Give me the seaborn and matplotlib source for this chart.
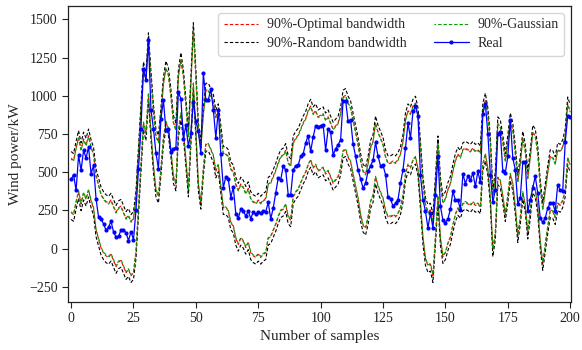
import numpy as np
import pandas as pd
import matplotlib
matplotlib.use("Agg")
import matplotlib.pyplot as plt
import seaborn as sns

# Measured wind power (kW) for samples 0..200
real = [453, 484, 381, 611, 512, 643, 593, 665, 490, 545,
        327, 207, 192, 163, 120, 141, 179, 109, 76, 80, 120, 120, 105, 52, 111, 59,
        251, 523, 785, 1178, 1101, 1363, 910, 785, 626, 523, 848, 970, 774, 785,
        632, 654, 661, 1025, 981, 720, 807, 672, 758, 960, 833, 770, 626, 1149, 975, 975,
        1043, 910, 724, 910, 617, 399, 469, 453, 334, 403, 229, 200, 257, 246, 213,
        244, 196, 240, 224, 237, 233,
        244, 242, 303, 194, 266, 364, 462, 451, 538, 516, 353, 353, 516, 542, 547,
        603, 619, 691, 739, 636, 730, 804, 795, 804, 810,
        643, 782, 760, 614, 651, 680, 712, 969, 969, 832, 843, 686, 603, 516, 455,
        396, 429, 505, 542, 577, 695, 603, 542, 545, 484,
        338, 325, 277, 298, 320, 429, 516, 658, 821, 723, 898, 930, 869, 479, 320,
        244, 135, 233, 135, 349, 603, 277, 185, 170, 194, 259,
        375, 316, 320, 255, 490, 425, 473, 447, 494, 407, 505, 433, 882, 948, 752,
        484, 303, 386, 752, 760, 505, 494, 603, 843,
        593, 516, 294, 331, 564, 564, 244, 320, 396, 473, 364, 200, 172, 200, 266,
        298, 298, 244, 418, 381, 375, 695, 865, 860]

# Point forecast at the centre of the interval bands
forecast = [413, 400, 480, 550, 470, 540, 500, 560, 490, 440,
            300, 240, 180, 150, 130, 120, 140, 100, 60, 90, 100, 60, 20, 40, 0, 20,
            155, 445, 725, 1000, 930, 1190, 940, 720, 560, 520, 700, 900, 1005, 960,
            820, 650, 600, 950, 1060, 950, 760, 560, 900, 1256, 950, 600, 480, 700, 860, 860,
            825, 785, 685, 725, 585, 445, 445, 425, 345, 325, 245, 205, 245, 225, 185,
            215, 150, 130, 120, 140, 120,
            140, 150, 245, 255, 295, 335, 385, 425, 435, 465, 385, 365, 515, 545, 565,
            605, 645, 675, 725, 755, 705, 725, 685, 695, 705,
            665, 685, 645, 605, 625, 645, 705, 815, 825, 775, 745, 665, 585, 505, 400,
            330, 310, 380, 485, 525, 645, 585, 545, 505, 425,
            385, 385, 395, 385, 405, 445, 525, 665, 725, 705, 755, 775, 700,
            480, 250, 113, 65, 75, 0, 250, 515, 244, 125, 150, 210, 250,
            330, 400, 440, 420, 470, 480, 470, 460, 480, 460, 470, 450,
            730, 795, 700, 510, 170, 280, 640, 620, 520, 400, 520, 665, 600, 450,
            262, 380, 545, 460, 285, 420, 585, 560, 450, 225, 80, 200, 320, 425,
            420, 380, 470, 460, 490, 560, 770, 720]

# Half widths of the 90% intervals (kW)
half_optimal = 178
half_random = 222
half_gaussian = 172

samples = np.arange(len(real))
fc = np.array(forecast)

df = pd.DataFrame({
    "sample": samples,
    "real": real,
    "opt_lo": fc - half_optimal,
    "opt_hi": fc + half_optimal,
    "rnd_lo": fc - half_random,
    "rnd_hi": fc + half_random,
    "gau_lo": fc - half_gaussian,
    "gau_hi": fc + half_gaussian,
})

sns.set_theme(style="ticks")
plt.rcParams["font.family"] = ["Liberation Serif", "DejaVu Serif"]
plt.rcParams["axes.linewidth"] = 0.9
plt.rcParams["xtick.direction"] = "out"
plt.rcParams["ytick.direction"] = "out"

fig = plt.figure(figsize=(5.82, 3.5), dpi=100)
ax = fig.add_axes([0.117, 0.137, 0.864, 0.846])

dash = (0, (3, 1.8))
lw = 0.8
sns.lineplot(data=df, x="sample", y="opt_hi", ax=ax, color="#ff0000", lw=lw,
             linestyle=dash, label="90%-Optimal bandwidth")
sns.lineplot(data=df, x="sample", y="opt_lo", ax=ax, color="#ff0000", lw=lw,
             linestyle=dash, label="_nolegend_")
sns.lineplot(data=df, x="sample", y="rnd_hi", ax=ax, color="#000000", lw=lw,
             linestyle=dash, label="90%-Random bandwidth")
sns.lineplot(data=df, x="sample", y="rnd_lo", ax=ax, color="#000000", lw=lw,
             linestyle=dash, label="_nolegend_")
sns.lineplot(data=df, x="sample", y="gau_hi", ax=ax, color="#00a000", lw=lw,
             linestyle=(1.5, (3, 1.8)), label="90%-Gaussian")
sns.lineplot(data=df, x="sample", y="gau_lo", ax=ax, color="#00a000", lw=lw,
             linestyle=(1.5, (3, 1.8)), label="_nolegend_")
sns.lineplot(data=df, x="sample", y="real", ax=ax, color="#0000ff", lw=0.9,
             marker="o", markersize=3, markeredgewidth=0, label="Real")

ax.set_xlim(-1.2, 200.3)
ax.set_ylim(-350, 1588)
ax.set_xticks([0, 25, 50, 75, 100, 125, 150, 175, 200])
ax.set_yticks([-250, 0, 250, 500, 750, 1000, 1250, 1500])
ax.tick_params(labelsize=10, length=4, width=0.8, colors="#222222")
ax.set_xlabel("Number of samples", fontsize=11, labelpad=3)
ax.set_ylabel("Wind power/kW", fontsize=11, labelpad=5)
for s in ax.spines.values():
    s.set_color("#222222")

leg = ax.legend(loc="upper right", ncol=2, fontsize=10, frameon=True,
                handlelength=2.5, handletextpad=0.6, columnspacing=2.0,
                borderaxespad=0.5, labelspacing=0.4)
leg.get_frame().set_edgecolor("#cccccc")

fig.savefig("out.png", dpi=100)
